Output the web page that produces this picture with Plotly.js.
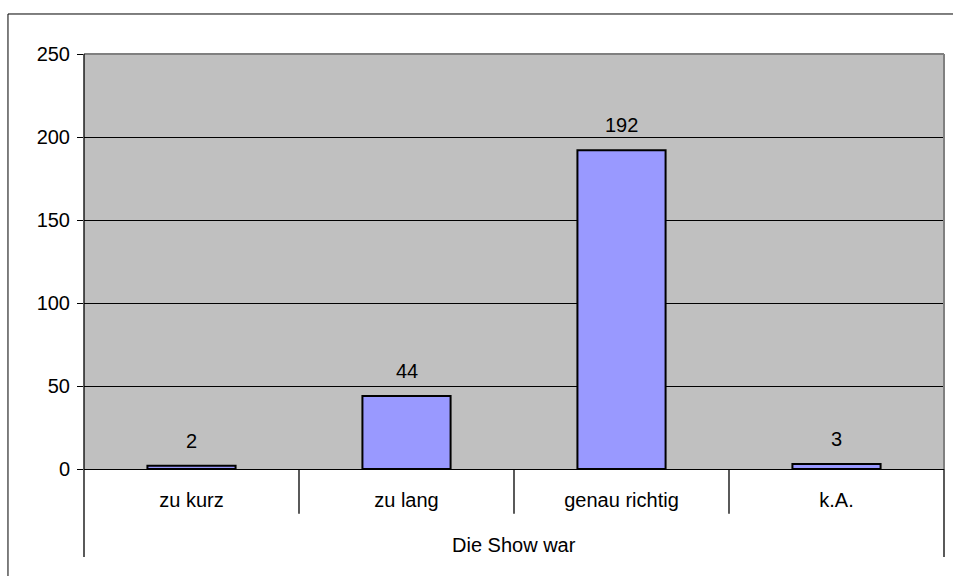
<!DOCTYPE html>
<html>
<head>
<meta charset="utf-8">
<script src="https://cdn.plot.ly/plotly-3.0.1.min.js"></script>
<style>
html,body{margin:0;padding:0;background:#fff;}
#chart{width:953px;height:576px;}
</style>
</head>
<body>
<div id="chart"></div>
<script>
const categories = ["zu kurz", "zu lang", "genau richtig", "k.A."];
const values = [2, 44, 192, 3];
const groupLabel = "Die Show war";
const yTicks = [0, 50, 100, 150, 200, 250];

const FONT = "Liberation Sans, Arial, sans-serif";
const FS = 20;

const trace = {
  type: "bar",
  x: categories,
  y: values,
  width: 0.41,
  marker: { color: "#9999ff", line: { color: "#000000", width: 2 } },
  hoverinfo: "none"
};

const annotations = categories.map((c, i) => ({
  x: c, y: values[i], xref: "x", yref: "y",
  text: String(values[i]), showarrow: false,
  yanchor: "bottom", yshift: 12,
  font: { family: FONT, size: FS, color: "#000" }
}));
annotations.push({
  x: 0.5, y: -0.183, xref: "paper", yref: "paper",
  text: groupLabel, showarrow: false, yanchor: "middle",
  font: { family: FONT, size: FS, color: "#000" }
});

const shapes = [];
// outer chart frame
shapes.push({ type: "rect", xref: "paper", yref: "paper",
  x0: -0.0884, x1: 1.2, y0: -0.5, y1: 1.0964,
  line: { color: "#000", width: 1 }, fillcolor: "rgba(0,0,0,0)" });
// plot area border (gray) top and right
shapes.push({ type: "line", xref: "paper", yref: "paper", x0: 0, x1: 1, y0: 1, y1: 1,
  line: { color: "#808080", width: 2 } });
shapes.push({ type: "line", xref: "paper", yref: "paper", x0: 1, x1: 1, y0: 0, y1: 1,
  line: { color: "#808080", width: 2 } });
// left axis line extended down
shapes.push({ type: "line", xref: "paper", yref: "paper", x0: 0, x1: 0, y0: -0.212, y1: 1,
  line: { color: "#000", width: 1.3 } });
// right outer boundary of category table
shapes.push({ type: "line", xref: "paper", yref: "paper", x0: 1, x1: 1, y0: -0.212, y1: 0,
  line: { color: "#000", width: 1.3 } });
// category dividers
for (let i = 1; i < categories.length; i++) {
  shapes.push({ type: "line", xref: "x", yref: "paper", x0: i - 0.5, x1: i - 0.5, y0: -0.108, y1: 0,
    line: { color: "#000", width: 1.3 } });
}

const layout = {
  width: 953, height: 576,
  margin: { l: 84, r: 9, t: 54, b: 107, pad: 0 },
  paper_bgcolor: "#ffffff",
  plot_bgcolor: "#c0c0c0",
  showlegend: false,
  bargap: 0,
  font: { family: FONT, size: FS, color: "#000" },
  xaxis: {
    type: "category",
    showline: true, linecolor: "#000", linewidth: 1,
    ticks: "", showgrid: false,
    ticklabelstandoff: 13,
    tickfont: { family: FONT, size: FS, color: "#000" },
    range: [-0.5, 3.5], fixedrange: true
  },
  yaxis: {
    range: [0, 250], tickvals: yTicks,
    showgrid: true, gridcolor: "#000", gridwidth: 1,
    zeroline: false,
    showline: false,
    ticks: "outside", ticklen: 6, tickcolor: "#000", tickwidth: 1,
    ticklabelstandoff: 3,
    tickfont: { family: FONT, size: FS, color: "#000" },
    fixedrange: true
  },
  annotations: annotations,
  shapes: shapes
};

Plotly.newPlot("chart", [trace], layout, { displayModeBar: false, staticPlot: true });
</script>
</body>
</html>
